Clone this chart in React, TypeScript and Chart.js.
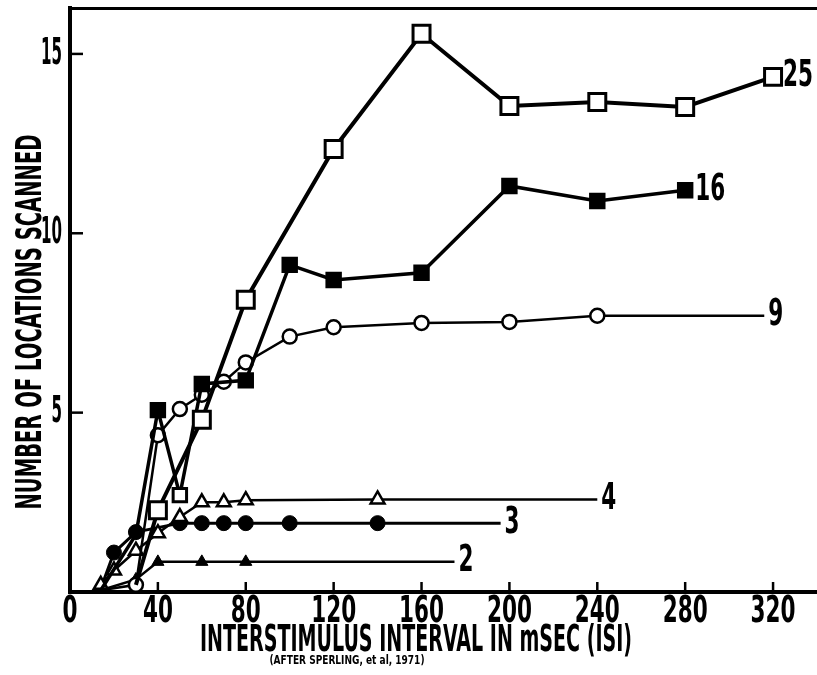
import React, { useEffect, useRef } from 'react';
import { Chart, registerables } from 'chart.js';

Chart.register(...registerables);

// ---- data ----
const xTickValues = [0, 40, 80, 120, 160, 200, 240, 280, 320];
const yTickValues = [5, 10, 15];

const isi25 = [30, 40, 60, 80, 120, 160, 200, 240, 280, 320];
const loc25 = [0.2, 2.28, 4.8, 8.15, 12.35, 15.56, 13.55, 13.66, 13.52, 14.36];

const isi16 = [14, 30, 40, 50, 60, 80, 100, 120, 160, 200, 240, 280];
const loc16 = [0.05, 1.6, 5.07, 2.7, 5.8, 5.9, 9.12, 8.7, 8.9, 11.32, 10.9, 11.2];

const isi9 = [14, 30, 40, 50, 60, 70, 80, 100, 120, 160, 200, 240, 316];
const loc9 = [0.05, 0.2, 4.37, 5.1, 5.5, 5.86, 6.4, 7.12, 7.38, 7.5, 7.53, 7.7, 7.7];

const isi4 = [14, 20, 30, 40, 50, 60, 70, 80, 140, 240];
const loc4 = [0.2, 0.6, 1.15, 1.64, 2.09, 2.5, 2.5, 2.56, 2.58, 2.58];

const isi3 = [14, 20, 30, 50, 60, 70, 80, 100, 140, 196];
const loc3 = [0.1, 1.1, 1.67, 1.92, 1.92, 1.92, 1.92, 1.92, 1.92, 1.92];

const isi2 = [14, 30, 40, 60, 80, 175];
const loc2 = [0.05, 0.35, 0.84, 0.84, 0.84, 0.84];

const seriesLabels = ['25', '16', '9', '4', '3', '2'];

const yTitle = 'NUMBER OF LOCATIONS SCANNED';
const xTitle = 'INTERSTIMULUS INTERVAL IN mSEC (ISI)';
const creditText = '(AFTER SPERLING, et al, 1971)';

const FONT = "'Liberation Sans Narrow', 'DejaVu Sans Condensed', 'Roboto', sans-serif";

const pts = (xs: number[], ys: number[]) => xs.map((x, i) => ({ x, y: ys[i] }));

function drawCondensed(
  ctx: CanvasRenderingContext2D,
  text: string,
  x: number,
  y: number,
  size: number,
  targetWidth: number | null,
  align: 'left' | 'center' | 'right',
  sx = 1
) {
  ctx.save();
  ctx.font = `bold ${size}px ${FONT}`;
  const w = ctx.measureText(text).width;
  const scale = targetWidth ? targetWidth / w : sx;
  ctx.translate(x, y);
  ctx.scale(scale, 1);
  ctx.textAlign = align;
  ctx.textBaseline = 'middle';
  ctx.fillStyle = '#000';
  ctx.fillText(text, 0, 0);
  ctx.restore();
}

const NUM_SIZE = 37;

function numberScale(ctx: CanvasRenderingContext2D) {
  ctx.save();
  ctx.font = `bold ${NUM_SIZE}px ${FONT}`;
  const w = ctx.measureText('320').width;
  ctx.restore();
  return 45 / w;
}

const overlayPlugin = {
  id: 'overlay',
  afterDatasetsDraw(chart: any) {
    const ctx: CanvasRenderingContext2D = chart.ctx;
    const xs = chart.scales.x;
    const ys = chart.scales.y;
    const sx = numberScale(ctx);
    ctx.save();
    ctx.strokeStyle = '#000';
    ctx.lineWidth = 2.5;
    ctx.lineCap = 'butt';
    // inward tick marks
    xTickValues.forEach((v) => {
      if (v === 0) return;
      const px = xs.getPixelForValue(v);
      ctx.beginPath();
      ctx.moveTo(px, ys.bottom);
      ctx.lineTo(px, ys.bottom - 10);
      ctx.stroke();
    });
    yTickValues.forEach((v) => {
      const py = ys.getPixelForValue(v);
      ctx.beginPath();
      ctx.moveTo(xs.left, py);
      ctx.lineTo(xs.left + 13, py);
      ctx.stroke();
    });
    ctx.restore();

    // tick labels, placed by the scales
    xs.ticks.forEach((t: any) => {
      drawCondensed(ctx, String(t.value), xs.getPixelForValue(t.value), ys.bottom + 20, NUM_SIZE, null, 'center', sx);
    });
    ys.ticks.forEach((t: any) => {
      drawCondensed(ctx, String(t.value), xs.left - 8, ys.getPixelForValue(t.value), NUM_SIZE, null, 'right', sx * 0.7);
    });

    // series end labels
    const labelOffsets = [10, 10, 4, 4, 4, 4];
    seriesLabels.forEach((lab, i) => {
      const meta = chart.getDatasetMeta(i);
      const last = meta.data[meta.data.length - 1];
      drawCondensed(ctx, lab, last.x + labelOffsets[i], last.y, NUM_SIZE, null, 'left', sx);
    });

    // axis titles
    ctx.save();
    ctx.translate(32, 322);
    ctx.rotate(-Math.PI / 2);
    drawCondensed(ctx, yTitle, 0, 0, 36, 375, 'center');
    ctx.restore();

    drawCondensed(ctx, xTitle, 416, 641, 38, 432, 'center');
    drawCondensed(ctx, creditText, 347, 661, 12, 155, 'center');
  },
};

const noPad = (s: any) => {
  s.paddingTop = 0;
  s.paddingBottom = 0;
  s.paddingLeft = 0;
  s.paddingRight = 0;
};

export default function App() {
  const ref = useRef<HTMLCanvasElement | null>(null);

  useEffect(() => {
    if (!ref.current) return;
    const black = '#000';
    const chart = new Chart(ref.current, {
      type: 'line',
      data: {
        datasets: [
          {
            label: seriesLabels[0],
            data: pts(isi25, loc25),
            borderColor: black,
            borderWidth: 4,
            pointStyle: 'rect',
            pointRadius: isi25.map((_, i) => (i === 0 ? 0 : 12)),
            pointBackgroundColor: '#fff',
            pointBorderColor: black,
            pointBorderWidth: 3,
          },
          {
            label: seriesLabels[1],
            data: pts(isi16, loc16),
            borderColor: black,
            borderWidth: 3.5,
            pointStyle: 'rect',
            pointRadius: isi16.map((_, i) => (i < 2 ? 0 : 9.5)),
            pointBackgroundColor: isi16.map((x) => (x === 50 ? '#fff' : black)),
            pointBorderColor: black,
            pointBorderWidth: 3,
          },
          {
            label: seriesLabels[2],
            data: pts(isi9, loc9),
            borderColor: black,
            borderWidth: 2.5,
            pointStyle: 'circle',
            pointRadius: isi9.map((_, i) => (i === 0 || i === isi9.length - 1 ? 0 : 7)),
            pointBackgroundColor: '#fff',
            pointBorderColor: black,
            pointBorderWidth: 2.5,
          },
          {
            label: seriesLabels[3],
            data: pts(isi4, loc4),
            borderColor: black,
            borderWidth: 2.5,
            pointStyle: 'triangle',
            pointRadius: isi4.map((_, i) => (i === isi4.length - 1 ? 0 : 8)),
            pointBackgroundColor: '#fff',
            pointBorderColor: black,
            pointBorderWidth: 2.5,
          },
          {
            label: seriesLabels[4],
            data: pts(isi3, loc3),
            borderColor: black,
            borderWidth: 3,
            pointStyle: 'circle',
            pointRadius: isi3.map((_, i) => (i === 0 || i === isi3.length - 1 ? 0 : 7.5)),
            pointBackgroundColor: black,
            pointBorderColor: black,
            pointBorderWidth: 1,
          },
          {
            label: seriesLabels[5],
            data: pts(isi2, loc2),
            borderColor: black,
            borderWidth: 2.5,
            pointStyle: 'triangle',
            pointRadius: isi2.map((_, i) => (i === isi2.length - 1 ? 0 : 7)),
            pointBackgroundColor: black,
            pointBorderColor: black,
            pointBorderWidth: 1,
          },
        ],
      },
      options: {
        responsive: false,
        animation: false,
        layout: { padding: 0, autoPadding: false },
        plugins: {
          legend: { display: false },
          tooltip: { enabled: false },
          title: { display: false },
        },
        elements: { line: { tension: 0 } },
        scales: {
          x: {
            type: 'linear',
            position: 'bottom',
            min: 0,
            max: 340,
            grid: { display: false, drawTicks: false },
            border: { display: true, color: black, width: 4 },
            ticks: { display: false },
            afterBuildTicks: (s: any) => {
              s.ticks = xTickValues.map((v) => ({ value: v }));
            },
            afterFit: (s: any) => {
              s.height = 83;
              noPad(s);
            },
          },
          xTop: {
            type: 'linear',
            position: 'top',
            min: 0,
            max: 340,
            grid: { display: false, drawTicks: false },
            border: { display: true, color: black, width: 3 },
            ticks: { display: false },
            afterFit: (s: any) => {
              s.height = 8;
              noPad(s);
            },
          },
          y: {
            type: 'linear',
            position: 'left',
            min: 0,
            max: 16.28,
            grid: { display: false, drawTicks: false },
            border: { display: true, color: black, width: 4 },
            ticks: { display: false },
            afterBuildTicks: (s: any) => {
              s.ticks = yTickValues.map((v) => ({ value: v }));
            },
            afterFit: (s: any) => {
              s.width = 70;
              noPad(s);
            },
          },
        },
      } as any,
      plugins: [overlayPlugin],
    });
    return () => chart.destroy();
  }, []);

  return (
    <div style={{ position: 'absolute', left: 0, top: 0, width: 817, height: 675, background: '#fff' }}>
      <canvas ref={ref} width={817} height={675} style={{ display: 'block' }} />
    </div>
  );
}
